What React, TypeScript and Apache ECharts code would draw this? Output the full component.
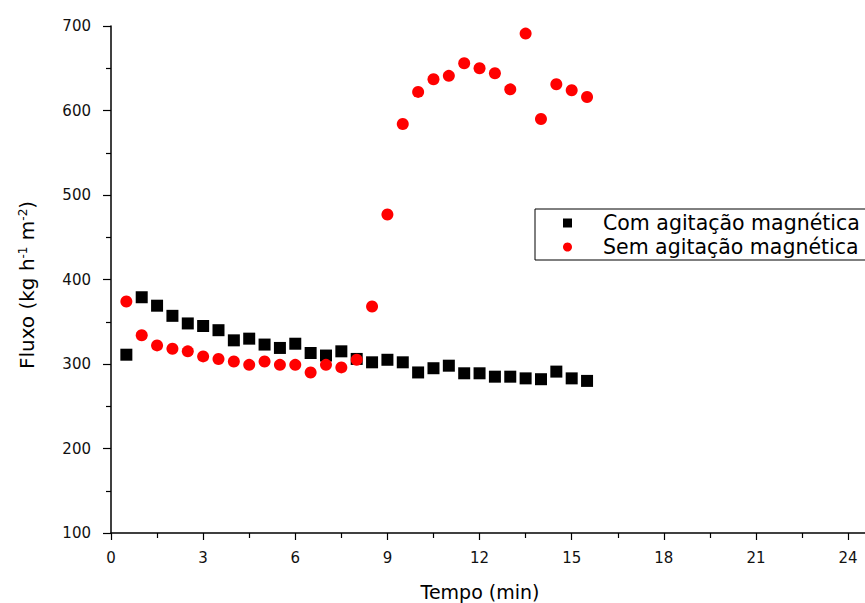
import React, { useEffect, useRef } from "react";
import * as echarts from "echarts";

const tempo = [0.5, 1, 1.5, 2, 2.5, 3, 3.5, 4, 4.5, 5, 5.5, 6, 6.5, 7, 7.5, 8, 8.5, 9, 9.5, 10, 10.5, 11, 11.5, 12, 12.5, 13, 13.5, 14, 14.5, 15, 15.5];
const comAgitacao = [311, 379, 369, 357, 348, 345, 340, 328, 330, 323, 319, 324, 313, 310, 315, 306, 302, 305, 302, 290, 295, 298, 289, 289, 285, 285, 283, 282, 291, 283, 280];
const semAgitacao = [374, 334, 322, 318, 315, 309, 306, 303, 299, 303, 299, 299, 290, 299, 296, 305, 368, 477, 584, 622, 637, 641, 656, 650, 644, 625, 691, 590, 631, 624, 616];
const seriesNames = ["Com agitação magnética", "Sem agitação magnética"];
const xTitle = "Tempo (min)";
const xMajorTicks = [0, 3, 6, 9, 12, 15, 18, 21, 24];
const xMinorTicks = [1.5, 4.5, 7.5, 10.5, 13.5, 16.5, 19.5, 22.5];

const FONT = "'DejaVu Sans', Arial, sans-serif";
const X_MAX = 24.55;

export default function App() {
  const ref = useRef<HTMLDivElement>(null);
  useEffect(() => {
    if (!ref.current) return;
    const chart = echarts.init(ref.current, null, { renderer: "svg" });
    const axisLine = { show: true, onZero: false, lineStyle: { color: "#000", width: 1.5 } };
    chart.setOption({
      animation: false,
      backgroundColor: "#fff",
      textStyle: { fontFamily: FONT },
      grid: { left: 111, top: 26, bottom: 70, right: 0, containLabel: false },
      xAxis: [
        {
          type: "value",
          min: 0,
          max: X_MAX,
          axisLine,
          axisTick: { show: true, length: 7, customValues: xMajorTicks, lineStyle: { color: "#000", width: 1.2 } },
          splitLine: { show: false },
          axisLabel: { fontSize: 15, color: "#111", margin: 17, fontFamily: FONT, customValues: xMajorTicks },
        },
        {
          type: "value",
          min: 0,
          max: X_MAX,
          position: "bottom",
          axisLine: { show: false, onZero: false },
          axisTick: { show: true, length: 5, customValues: xMinorTicks, lineStyle: { color: "#000", width: 1.2 } },
          splitLine: { show: false },
          axisLabel: { show: false },
        },
      ],
      yAxis: {
        type: "value",
        min: 100,
        max: 700,
        interval: 100,
        axisLine,
        axisTick: { show: true, length: 8, lineStyle: { color: "#000", width: 1.2 } },
        minorTick: { show: true, splitNumber: 2, length: 5, lineStyle: { color: "#000", width: 1.2 } },
        splitLine: { show: false },
        axisLabel: { fontSize: 15, color: "#111", margin: 20, fontFamily: FONT },
      },
      legend: {
        orient: "vertical",
        left: 535,
        top: 209,
        borderColor: "#000",
        borderWidth: 1,
        borderRadius: 0,
        padding: [3, 10, 2, 28],
        itemGap: 2,
        itemWidth: 9,
        itemHeight: 9,
        textStyle: { fontSize: 20.5, lineHeight: 22, color: "#000", fontFamily: FONT, padding: [0, 0, 0, 26] },
        data: [
          { name: seriesNames[0], icon: "rect" },
          { name: seriesNames[1], icon: "circle" },
        ],
      },
      graphic: [
        {
          type: "text",
          x: 480,
          y: 592,
          style: { text: xTitle, fontSize: 19, fontFamily: FONT, fill: "#000", align: "center", verticalAlign: "middle" },
        },
        {
          type: "text",
          x: 27,
          y: 285,
          rotation: Math.PI / 2,
          style: {
            text: "Fluxo (kg h{sup|-1} m{sup|-2})",
            fontSize: 20,
            fontFamily: FONT,
            fill: "#000",
            align: "center",
            verticalAlign: "middle",
            rich: {
              sup: { fontSize: 12, fontFamily: FONT, fill: "#000", verticalAlign: "top", padding: [0, 0, 8, 0] },
            },
          },
        },
      ],
      series: [
        {
          name: seriesNames[0],
          type: "scatter",
          symbol: "rect",
          symbolSize: 12,
          itemStyle: { color: "#000", opacity: 1 },
          data: tempo.map((t, i) => [t, comAgitacao[i]]),
          z: 2,
        },
        {
          name: seriesNames[1],
          type: "scatter",
          symbol: "circle",
          symbolSize: 12,
          itemStyle: { color: "#ff0000", opacity: 1 },
          data: tempo.map((t, i) => [t, semAgitacao[i]]),
          z: 3,
        },
      ],
    });
    return () => chart.dispose();
  }, []);
  return (
    <div
      ref={ref}
      style={{ position: "fixed", left: 0, top: 0, width: 865, height: 603, overflow: "hidden" }}
    />
  );
}
